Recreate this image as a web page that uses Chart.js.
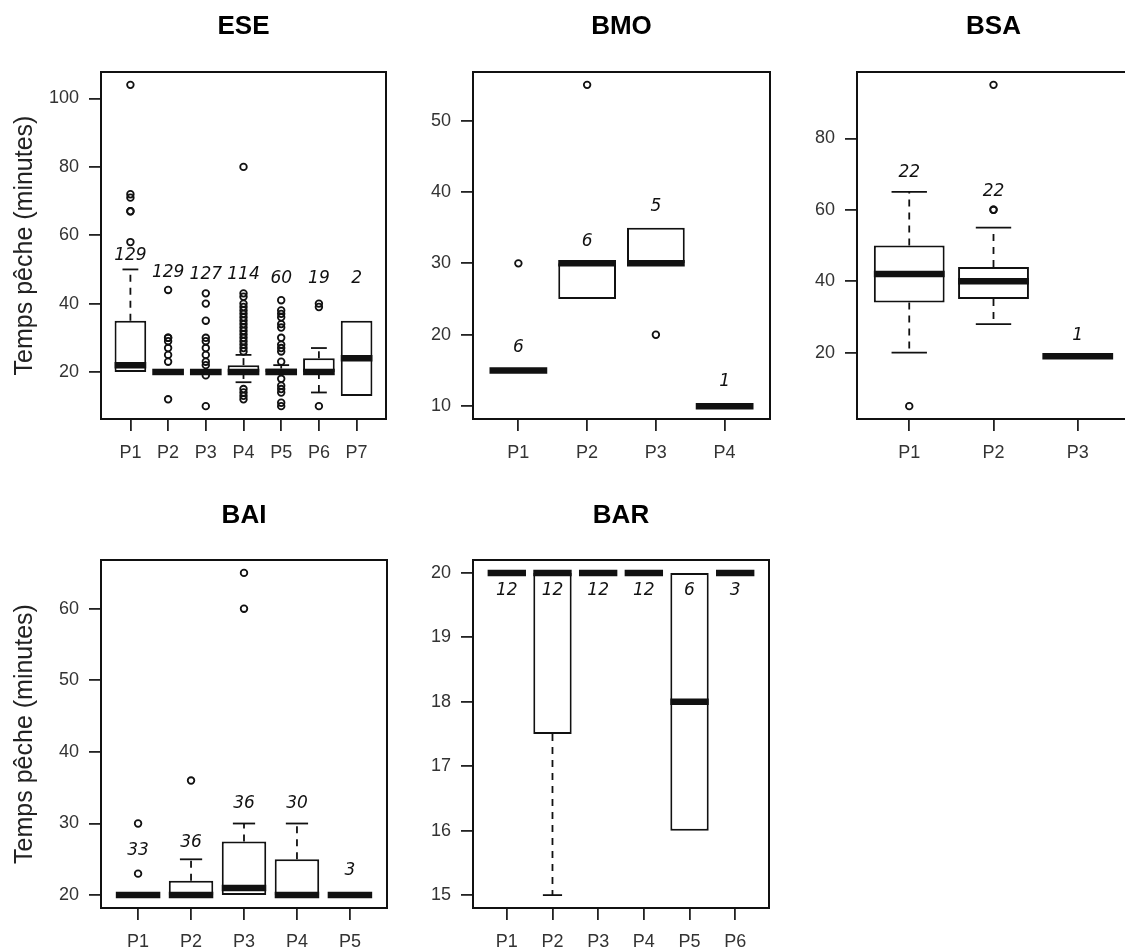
<!DOCTYPE html>
<html>
<head>
<meta charset="utf-8">
<script src="https://cdn.jsdelivr.net/npm/chart.js@4.4.0/dist/chart.umd.min.js"></script>
<style>
  html, body { margin: 0; padding: 0; background: #fff; overflow: hidden; }
  body { width: 1125px; height: 952px; position: relative; }
  canvas { position: absolute; }
</style>
</head>
<body>
<canvas id="ese" width="400" height="480" style="left:0;top:0"></canvas>
<canvas id="bmo" width="390" height="480" style="left:390px;top:0"></canvas>
<canvas id="bsa" width="360" height="480" style="left:780px;top:0"></canvas>
<canvas id="bai" width="400" height="462" style="left:0;top:490px"></canvas>
<canvas id="bar" width="390" height="462" style="left:390px;top:490px"></canvas>
<script>
// ESE
const eseLabels = ['P1', 'P2', 'P3', 'P4', 'P5', 'P6', 'P7'];
const eseQ1   = [20, 20, 20, 20, 20, 20, 13];
const eseMed  = [22, 20, 20, 20, 20, 20, 24];
const eseQ3   = [35, 20, 20, 22, 21, 24, 35];
const eseLow  = [20, 20, 20, 17, 20, 14, 13];
const eseHigh = [50, 20, 20, 25, 22, 27, 35];
const eseOut  = [
    [104, 72, 71, 67, 67, 58],
    [44, 30, 30, 29, 27, 25, 23, 12],
    [43, 40, 35, 30, 29, 27, 25, 23, 22, 19, 10],
    [80, 43, 42, 40, 39, 38, 37, 36, 35, 34, 33, 32, 31, 30, 29, 28, 27, 26, 15, 14, 13, 12],
    [41, 38, 37, 36, 34, 33, 30, 28, 27, 26, 23, 18, 16, 15, 14, 11, 10],
    [40, 39, 10],
    []
];
const eseN    = [129, 129, 127, 114, 60, 19, 2];
const eseNAt  = [54, 49, 48.6, 48.6, 47.3, 47.3, 47.3];
const eseTicks = [20, 40, 60, 80, 100];

// BMO
const bmoLabels = ['P1', 'P2', 'P3', 'P4'];
const bmoQ1   = [15, 25, 30, 10];
const bmoMed  = [15, 30, 30, 10];
const bmoQ3   = [15, 30, 35, 10];
const bmoLow  = [15, 25, 30, 10];
const bmoHigh = [15, 30, 35, 10];
const bmoOut  = [[30], [55], [20], []];
const bmoN    = [6, 6, 5, 1];
const bmoNAt  = [18.2, 33.1, 38, 13.4];
const bmoTicks = [10, 20, 30, 40, 50];

// BSA
const bsaLabels = ['P1', 'P2', 'P3'];
const bsaQ1   = [34, 35, 19];
const bsaMed  = [42, 40, 19];
const bsaQ3   = [50, 44, 19];
const bsaLow  = [20, 28, 19];
const bsaHigh = [65, 55, 19];
const bsaOut  = [[5], [60, 60, 95], []];
const bsaN    = [22, 22, 1];
const bsaNAt  = [70.5, 65, 24.7];
const bsaTicks = [20, 40, 60, 80];

// BAI
const baiLabels = ['P1', 'P2', 'P3', 'P4', 'P5'];
const baiQ1   = [20, 20, 20, 20, 20];
const baiMed  = [20, 20, 21, 20, 20];
const baiQ3   = [20, 22, 27.5, 25, 20];
const baiLow  = [20, 20, 20, 20, 20];
const baiHigh = [20, 25, 30, 30, 20];
const baiOut  = [[30, 23], [36], [60, 65], [], []];
const baiN    = [33, 36, 36, 30, 3];
const baiNAt  = [26.2, 27.4, 32.8, 32.8, 23.4];
const baiTicks = [20, 30, 40, 50, 60];

// BAR
const barLabels = ['P1', 'P2', 'P3', 'P4', 'P5', 'P6'];
const barQ1   = [20, 17.5, 20, 20, 16, 20];
const barMed  = [20, 20, 20, 20, 18, 20];
const barQ3   = [20, 20, 20, 20, 20, 20];
const barLow  = [20, 15, 20, 20, 16, 20];
const barHigh = [20, 20, 20, 20, 20, 20];
const barOut  = [[], [], [], [], [], []];
const barN    = [12, 12, 12, 12, 6, 3];
const barNAt  = [19.72, 19.72, 19.72, 19.72, 19.72, 19.72];
const barTicks = [15, 16, 17, 18, 19, 20];

const INK = '#111';
const yTitleText = 'Temps pêche (minutes)';

// whiskers, medians, counts, frame and titles drawn on top of the library's scales
function boxParts(p, f) {
    return {
        id: 'boxParts',
        beforeDatasetDraw(chart, args) {
            if (args.meta.type !== 'bar') return;
            const ctx = chart.ctx, y = chart.scales.y;
            ctx.save();
            ctx.strokeStyle = INK;
            ctx.lineWidth = 1.8;
            args.meta.data.forEach((bar, i) => {
                const cx = bar.x, half = bar.width / 4;
                [[p.q3[i], p.high[i]], [p.q1[i], p.low[i]]].forEach(([from, to]) => {
                    if (from === to) return;
                    const y0 = y.getPixelForValue(from), y1 = y.getPixelForValue(to);
                    ctx.setLineDash([7, 6]);
                    ctx.beginPath(); ctx.moveTo(cx, y0); ctx.lineTo(cx, y1); ctx.stroke();
                    ctx.setLineDash([]);
                    ctx.beginPath(); ctx.moveTo(cx - half, y1); ctx.lineTo(cx + half, y1); ctx.stroke();
                });
            });
            ctx.restore();
        },
        afterDatasetDraw(chart, args) {
            if (args.meta.type !== 'bar') return;
            const ctx = chart.ctx, y = chart.scales.y;
            ctx.save();
            ctx.strokeStyle = INK;
            ctx.lineWidth = 6.5;
            ctx.lineCap = 'butt';
            args.meta.data.forEach((bar, i) => {
                const my = y.getPixelForValue(p.med[i]);
                ctx.beginPath();
                ctx.moveTo(bar.x - bar.width / 2, my);
                ctx.lineTo(bar.x + bar.width / 2, my);
                ctx.stroke();
            });
            ctx.restore();
        },
        afterDatasetsDraw(chart) {
            const ctx = chart.ctx, x = chart.scales.x, y = chart.scales.y;
            ctx.save();
            ctx.fillStyle = INK;
            ctx.font = 'italic 17px "DejaVu Sans"';
            ctx.textAlign = 'center';
            ctx.textBaseline = 'middle';
            p.n.forEach((v, i) => {
                ctx.fillText(String(v), x.getPixelForValue(i + 1), y.getPixelForValue(p.nAt[i]));
            });
            ctx.restore();
        },
        afterDraw(chart) {
            const ctx = chart.ctx, a = chart.chartArea;
            ctx.save();
            ctx.strokeStyle = INK;
            ctx.lineWidth = 2;
            ctx.strokeRect(a.left, a.top, a.right - a.left, a.bottom - a.top);

            ctx.fillStyle = '#000';
            ctx.font = 'bold 26px "Liberation Sans"';
            ctx.textAlign = 'center';
            ctx.textBaseline = 'middle';
            ctx.fillText(p.title, (a.left + a.right) / 2, f.titleY);

            if (p.yTitle) {
                ctx.fillStyle = '#222';
                ctx.font = '25px "Liberation Sans"';
                ctx.translate(f.yTitleX, (a.top + a.bottom) / 2);
                ctx.rotate(-Math.PI / 2);
                ctx.fillText(p.yTitle, 0, 0);
            }
            ctx.restore();
        }
    };
}

function makePanel(id, p, f) {
    const nCat = p.labels.length;
    const all = [...p.low, ...p.high, ...p.out.flat()];
    const lo = Math.min(...all), hi = Math.max(...all);
    const yPad = (hi - lo) * 0.04;
    const xPad = nCat * 0.04;

    const boxes = p.labels.map((_, i) => ({ x: i + 1, y: [p.q1[i], p.q3[i]] }));
    const points = p.out.flatMap((vals, i) => vals.map(v => ({ x: i + 1, y: v })));

    const tickFont = { family: '"Liberation Sans", Arial, sans-serif', size: 18 };
    const grid = { display: true, drawOnChartArea: false, drawTicks: true, tickLength: 12,
                   color: '#222', lineWidth: 1.8, offset: false };

    return new Chart(document.getElementById(id), {
        type: 'bar',
        data: {
            datasets: [
                {
                    type: 'scatter',
                    order: 0,
                    data: points,
                    pointRadius: 3.3,
                    pointHoverRadius: 3.3,
                    pointBorderWidth: 1.8,
                    pointBackgroundColor: 'rgba(0,0,0,0)',
                    pointBorderColor: INK
                },
                {
                    type: 'bar',
                    order: 1,
                    data: boxes,
                    backgroundColor: '#fff',
                    borderColor: INK,
                    borderWidth: 2,
                    borderSkipped: false,
                    inflateAmount: 0,
                    categoryPercentage: 0.84,
                    barPercentage: 1
                }
            ]
        },
        options: {
            responsive: false,
            animation: false,
            events: [],
            layout: {
                autoPadding: false,
                padding: { top: f.top, right: f.right, left: 0, bottom: 0 }
            },
            plugins: {
                legend: { display: false },
                tooltip: { enabled: false }
            },
            scales: {
                x: {
                    type: 'linear',
                    offset: false,
                    min: 0.5 - xPad,
                    max: nCat + 0.5 + xPad,
                    grid: grid,
                    border: { display: false },
                    ticks: {
                        font: tickFont,
                        color: '#333',
                        padding: 11,
                        autoSkip: false,
                        maxRotation: 0,
                        callback: v => p.labels[v - 1]
                    },
                    afterBuildTicks: s => { s.ticks = p.labels.map((_, i) => ({ value: i + 1 })); },
                    afterFit: s => { s.height = f.axisH; }
                },
                y: {
                    type: 'linear',
                    min: lo - yPad,
                    max: hi + yPad,
                    grid: grid,
                    border: { display: false },
                    ticks: {
                        font: tickFont,
                        color: '#333',
                        padding: 10,
                        autoSkip: false
                    },
                    afterBuildTicks: s => { s.ticks = p.ticks.map(v => ({ value: v })); },
                    afterFit: s => { s.width = f.axisW; }
                }
            }
        },
        plugins: [boxParts(p, f)]
    });
}

makePanel('ese', {
    title: 'ESE', labels: eseLabels, q1: eseQ1, med: eseMed, q3: eseQ3, low: eseLow, high: eseHigh,
    out: eseOut, n: eseN, nAt: eseNAt, ticks: eseTicks, yTitle: yTitleText
}, { axisW: 101, axisH: 61, top: 72, right: 14, titleY: 27, yTitleX: 25 });

makePanel('bmo', {
    title: 'BMO', labels: bmoLabels, q1: bmoQ1, med: bmoMed, q3: bmoQ3, low: bmoLow, high: bmoHigh,
    out: bmoOut, n: bmoN, nAt: bmoNAt, ticks: bmoTicks
}, { axisW: 83, axisH: 61, top: 72, right: 10, titleY: 27 });

makePanel('bsa', {
    title: 'BSA', labels: bsaLabels, q1: bsaQ1, med: bsaMed, q3: bsaQ3, low: bsaLow, high: bsaHigh,
    out: bsaOut, n: bsaN, nAt: bsaNAt, ticks: bsaTicks
}, { axisW: 77, axisH: 61, top: 72, right: 10, titleY: 27 });

makePanel('bai', {
    title: 'BAI', labels: baiLabels, q1: baiQ1, med: baiMed, q3: baiQ3, low: baiLow, high: baiHigh,
    out: baiOut, n: baiN, nAt: baiNAt, ticks: baiTicks, yTitle: yTitleText
}, { axisW: 101, axisH: 44, top: 70, right: 13, titleY: 26, yTitleX: 25 });

makePanel('bar', {
    title: 'BAR', labels: barLabels, q1: barQ1, med: barMed, q3: barQ3, low: barLow, high: barHigh,
    out: barOut, n: barN, nAt: barNAt, ticks: barTicks
}, { axisW: 83, axisH: 44, top: 70, right: 11, titleY: 26 });
</script>
</body>
</html>
